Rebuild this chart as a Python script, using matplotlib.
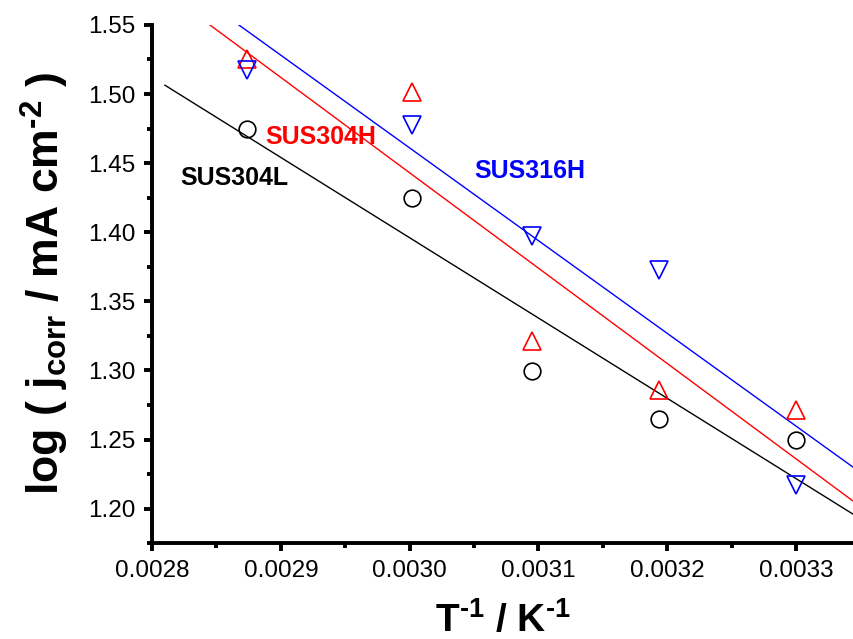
import numpy as np
import matplotlib
matplotlib.use('Agg')
import matplotlib.pyplot as plt
from matplotlib.ticker import MultipleLocator, FormatStrFormatter

plt.rcParams['font.family'] = ['Liberation Sans', 'DejaVu Sans']
plt.rcParams['mathtext.fontset'] = 'custom'
plt.rcParams['mathtext.rm'] = 'Liberation Sans:bold'
plt.rcParams['mathtext.it'] = 'Liberation Sans:bold'
plt.rcParams['mathtext.bf'] = 'Liberation Sans:bold'

# inverse temperature, 1/K
inv_T = [0.0028736, 0.0030021, 0.0030951, 0.0031933, 0.0033003]

# log(j_corr) per steel
sus304L = [1.4744, 1.4244, 1.2995, 1.2645, 1.2498]
sus304H = [1.5254, 1.5012, 1.3210, 1.2861, 1.2712]
sus316H = [1.5174, 1.4775, 1.3973, 1.3725, 1.2174]

# fitted lines (slope, intercept) as drawn in the figure
fit_304L = (-581.0, 3.139)
fit_304H = (-690.0, 3.513)
fit_316H = (-671.0, 3.474)
fit_range = [0.00281, 0.00336]

fig = plt.figure(figsize=(8.54, 6.39), dpi=100)
ax = fig.add_axes([0.178, 0.150, 0.822, 0.811])

xx = np.array(fit_range)
for fit, c in [(fit_304L, 'black'), (fit_304H, 'red'), (fit_316H, 'blue')]:
	ax.plot(xx, fit[0] * xx + fit[1], color=c, lw=1.0)

ax.plot(inv_T, sus304L, 'o', ms=12, mfc='none', mec='black', mew=1.2)
ax.plot(inv_T, sus304H, '^', ms=13, mfc='none', mec='red', mew=1.2)
ax.plot(inv_T, sus316H, 'v', ms=13, mfc='none', mec='blue', mew=1.2)

ax.text(0.0028217, 1.439, 'SUS304L', color='black', fontsize=18, fontweight='bold', va='center')
ax.text(0.0028876, 1.469, 'SUS304H', color='red', fontsize=18, fontweight='bold', va='center')
ax.text(0.0030504, 1.4444, 'SUS316H', color='blue', fontsize=18, fontweight='bold', va='center')

ax.set_xlim(0.0028, 0.003345)
ax.set_ylim(1.175, 1.55)
ax.xaxis.set_major_locator(MultipleLocator(0.0001))
ax.xaxis.set_minor_locator(MultipleLocator(0.00005))
ax.yaxis.set_major_locator(MultipleLocator(0.05))
ax.yaxis.set_minor_locator(MultipleLocator(0.025))
ax.xaxis.set_major_formatter(FormatStrFormatter('%.4f'))
ax.yaxis.set_major_formatter(FormatStrFormatter('%.2f'))

for s in ['top', 'right']:
	ax.spines[s].set_visible(False)
for s in ['left', 'bottom']:
	ax.spines[s].set_linewidth(2.8)
ax.tick_params(which='major', direction='out', length=6, width=2.8, labelsize=17.5, pad=6)
ax.tick_params(which='minor', direction='out', length=3.5, width=2.8)

hy = '\u2010'
ax.set_xlabel('T$^{' + hy + '1}$ / K$^{' + hy + '1}$', fontsize=28, fontweight='bold', labelpad=14)
ax.set_ylabel('log ( j$_{\\rm corr}$ / mA cm$^{' + hy + '2}$ )', fontsize=32, fontweight='bold', labelpad=12)

fig.savefig('out.png', dpi=100)
